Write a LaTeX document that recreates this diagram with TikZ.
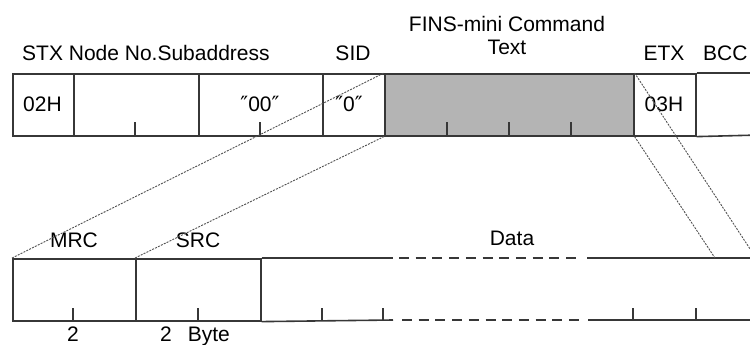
\documentclass[tikz,border=0pt]{standalone}
\usepackage{fontspec}
\setmainfont{Liberation Sans}
\newfontfamily\dvsans{DejaVu Sans}
\definecolor{linec}{RGB}{55,55,55}
\definecolor{fillg}{RGB}{180,180,180}
\definecolor{dotc}{RGB}{80,80,80}
\newcommand{\dq}{{\dvsans\char"2033}}
\begin{document}
\begin{tikzpicture}[x=1pt,y=-1pt,
  every node/.style={font=\fontsize{21}{25}\selectfont},
  cell/.style={draw=linec, line width=1.6pt, inner sep=0pt, minimum height=62pt, anchor=north west},
  bar/.style={draw=linec, line width=1.6pt},
  tickmark/.style={draw=linec, line width=1.6pt},
  guide/.style={draw=dotc, line width=0.9pt, dash pattern=on 2pt off 1.2pt},
  gapline/.style={draw=linec, line width=1.6pt, dash pattern=on 10pt off 6.7pt},
  lbl/.style={inner sep=0pt, anchor=base}
]
\useasboundingbox (0,0) rectangle (750,345);

% ---- top frame ----
\node[cell, minimum width=61pt]  (stx) at (12,73) {};
\node[cell, minimum width=125pt] (node) at (73,73) {};
\node[cell, minimum width=124pt] (sub) at (198,73) {};
\node[cell, minimum width=62pt]  (sid) at (322,73) {};
\node[cell, minimum width=249pt, fill=fillg] (fins) at (384,73) {};
\node[cell, minimum width=62pt]  (etx) at (633,73) {};
\coordinate (bcct) at (760,73);
\coordinate (bccb) at (760,135);
\draw[bar] (etx.north east) -- (bcct);
\draw[bar] (etx.south east) -- (bccb);

% cell contents
\node[lbl] (t02) at (42.5,111) {02H};
\node[lbl] (t00) at (260,111) {\dq 00\dq};
\node[lbl] (t0) at (349,111) {\dq 0\dq};
\node[lbl] (t03) at (664,111) {03H};

% ticks top
\foreach \x in {135,260,447,509,571}
  \draw[tickmark] (\x,135) -- (\x,122);

% header labels
\node[inner sep=0pt, anchor=base west] (hdr) at (22,61) {STX Node No.Subaddress};
\node[lbl] (hsid) at (353,61) {SID};
\node[lbl] (hfins1) at (507,32) {FINS-mini Command};
\node[lbl] (hfins2) at (507,55) {Text};
\node[lbl] (hetx) at (664,60) {ETX};
\node[inner sep=0pt, anchor=base west] (hbcc) at (703,60) {BCC};

% ---- bottom frame ----
\node[cell, minimum width=123pt] (mrc) at (12,258) {};
\node[cell, minimum width=125pt] (src) at (135,258) {};
\coordinate (d1t) at (393,258);
\coordinate (d1b) at (393,320);
\draw[bar] (src.north east) -- (d1t);
\draw[bar] (src.south east) -- (d1b);
\draw[gapline] (399,258) -- (581,258);
\draw[gapline] (402,320) -- (584,320);
\draw[bar] (587,258) -- (760,258);
\draw[bar] (588,320) -- (760,320);

\foreach \x in {73,198,322,383,633,696}
  \draw[tickmark] (\x,320) -- (\x,308);

\node[lbl] (lmrc) at (74,247) {MRC};
\node[lbl] (lsrc) at (198,247) {SRC};
\node[lbl] (ldata) at (512,245) {Data};
\node[lbl] (n1) at (73,341) {2};
\node[inner sep=0pt, anchor=base west] (n2) at (160,341) {2\hspace{16pt}Byte};

% ---- guide lines ----
\coordinate (l3end) at (756,258);
\coordinate (l4end) at (715,258);
\draw[guide] (mrc.north west) -- (fins.north west);
\draw[guide] (src.north west) -- (fins.south west);
\draw[guide] (fins.north east) -- (l3end);
\draw[guide] (fins.south east) -- (l4end);
\end{tikzpicture}
\end{document}
